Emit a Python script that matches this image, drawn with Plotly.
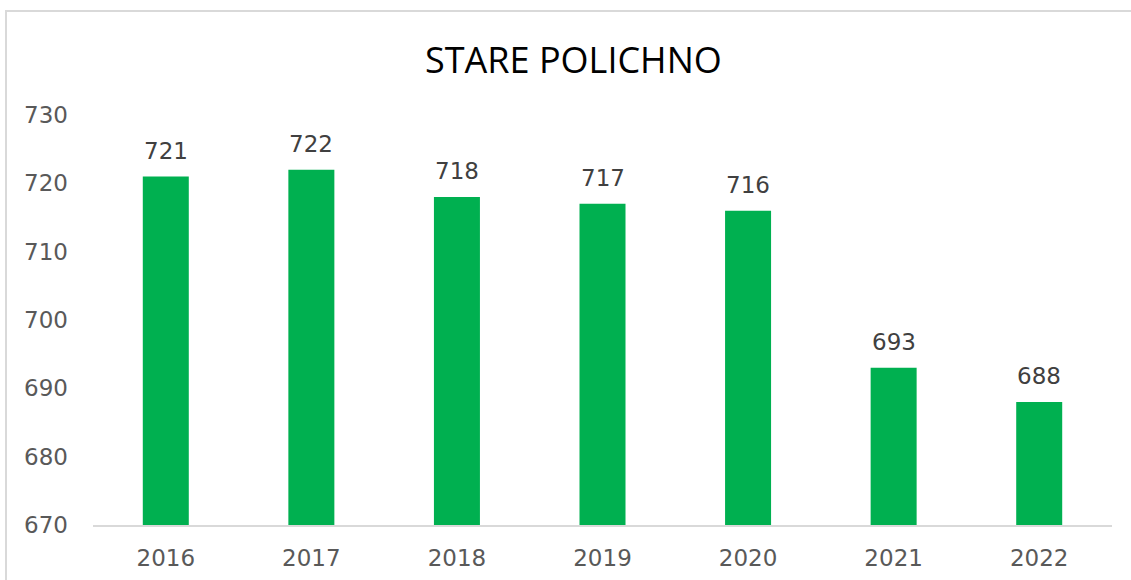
import plotly.graph_objects as go

years = ["2016", "2017", "2018", "2019", "2020", "2021", "2022"]
values = [721, 722, 718, 717, 716, 693, 688]
y_ticks = [670, 680, 690, 700, 710, 720, 730]
title_text = "STARE POLICHNO"

fig = go.Figure()
fig.add_trace(go.Bar(
    x=years, y=values,
    marker=dict(color="#00B050", line=dict(width=0)),
    hoverinfo="x+y",
))

# data labels: positioned by category index on the category axis
for i, v in enumerate(values):
    fig.add_annotation(x=i, y=v, text=str(v), showarrow=False,
                       yanchor="bottom", yshift=11,
                       font=dict(family="DejaVu Sans", size=23, color="#404040"))

fig.update_layout(
    width=1131, height=580,
    margin=dict(l=93, r=19, t=115, b=55, autoexpand=False),
    paper_bgcolor="white", plot_bgcolor="white",
    bargap=0.684,
    showlegend=False,
    title=dict(text=title_text, x=0.507, xanchor="center", y=1 - 60/580, yanchor="middle",
               font=dict(family="Open Sans", size=36, color="#000000")),
    xaxis=dict(type="category", range=[-0.5, len(years) - 0.5], showgrid=False,
               showline=True, linecolor="#D9D9D9", linewidth=2,
               ticks="", tickfont=dict(family="DejaVu Sans", size=23, color="#595959"),
               ticklabelstandoff=11, automargin=False),
    yaxis=dict(range=[670, 730], tickvals=y_ticks, showgrid=False, zeroline=False,
               showline=False, ticks="", ticklabelstandoff=24, automargin=False,
               tickfont=dict(family="DejaVu Sans", size=23, color="#595959")),
    shapes=[dict(type="rect", xref="paper", yref="paper",
                 x0=-87/1019, x1=1.05, y0=-0.2, y1=(525-11)/410,
                 line=dict(color="#D9D9D9", width=2), fillcolor="rgba(0,0,0,0)", layer="below")],
)

fig.write_html("out.html", config={"displayModeBar": False},
               post_script="document.body.style.margin='0';")
